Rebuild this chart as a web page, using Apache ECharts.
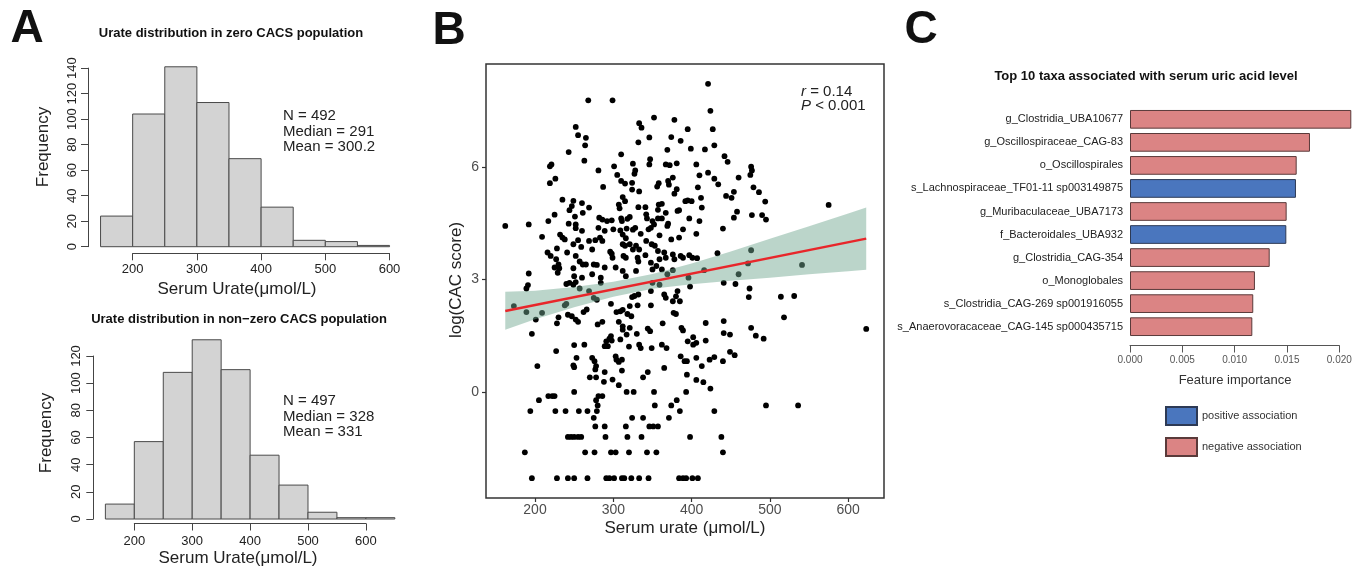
<!DOCTYPE html>
<html><head><meta charset="utf-8">
<script src="https://cdn.jsdelivr.net/npm/echarts@6/dist/echarts.min.js"></script>
<style>html,body{margin:0;padding:0;background:#fff}#c{width:1366px;height:572px}</style>
</head><body><div id="c"></div>
<script>
// ---------- DATA ----------
const zeroEdges = [150, 200, 250, 300, 350, 400, 450, 500, 550, 600];
const zeroCounts = [24, 104, 141, 113, 69, 31, 5, 4, 1];
const nonzeroEdges = [150, 200, 250, 300, 350, 400, 450, 500, 550, 600, 650];
const nonzeroCounts = [11, 57, 108, 132, 110, 47, 25, 5, 1, 1];

const urate = [
268,299,352,378,333,336,252,255,265,264,346,332,374,386,243,310,369,263,347,346,221,219,325,301,281,328,327,367,372,381,
305,226,219,310,315,324,287,324,333,358,356,370,371,376,381,378,312,315,235,249,260,244,247,225,261,269,307,308,332,341,
358,362,357,367,382,384,392,162,192,217,209,251,252,252,243,260,255,232,235,238,282,286,292,298,281,289,300,310,311,321,
318,309,312,317,325,328,335,342,343,350,345,348,352,357,362,369,370,359,374,384,389,277,283,286,249,259,269,273,312,316,
315,321,329,333,325,342,349,353,357,365,376,386,216,220,228,241,227,230,225,231,252,257,261,265,275,279,289,249,296,298,
299,313,316,331,332,341,348,359,367,378,389,192,229,250,260,273,284,303,312,316,329,350,355,362,369,376,
421,424,395,427,399,417,429,442,446,406,421,410,429,434,460,476,477,475,408,479,486,454,444,451,412,395,400,413,494,458,
454,477,490,495,397,410,575,406,440,433,397,401,407,476,472,541,460,416,396,
191,189,240,244,249,252,257,269,284,275,279,240,238,173,189,209,201,230,228,242,247,252,255,262,266,297,321,324,327,332,
348,350,359,365,367,382,380,376,385,348,331,304,309,312,318,323,307,312,321,312,344,347,363,377,380,387,389,196,280,286,
297,295,298,291,293,289,309,317,320,330,333,335,349,368,362,250,263,227,253,250,249,273,276,278,277,270,278,303,304,307,
311,311,289,288,299,307,203,338,344,365,386,391,250,317,326,352,393,217,222,225,205,278,281,286,280,194,226,239,256,267,
279,275,353,374,381,371,385,324,338,277,289,316,346,351,357,242,246,250,255,259,290,318,336,187,264,276,297,303,320,343,
355,196,228,242,250,267,291,295,301,311,314,323,333,345,384,389,
398,441,456,474,473,514,531,518,623,418,441,476,441,449,482,492,395,402,402,406,418,394,406,413,423,429,440,449,455,394,
406,415,424,429,495,536,398,438,440,393,401,408
];
const logCac = [
7.78,7.78,7.32,7.26,7.17,7.05,7.07,6.85,6.78,6.58,6.79,6.66,6.80,6.70,6.40,6.34,6.46,6.17,6.21,6.07,6.07,6.02,6.09,6.02,5.91,5.91,5.82,6.07,6.05,6.10,
5.79,5.69,5.57,5.63,5.56,5.58,5.47,5.40,5.35,5.57,5.48,5.63,5.53,5.72,5.41,5.29,5.20,5.09,5.13,5.10,5.04,4.85,4.96,4.73,4.78,4.92,5.00,4.90,4.93,4.93,
5.00,5.02,4.86,4.78,4.83,4.85,5.09,4.43,4.47,4.56,4.14,4.68,4.47,4.37,4.49,4.30,4.05,4.20,4.12,4.07,4.65,4.60,4.56,4.58,4.38,4.30,4.34,4.63,4.56,4.67,
4.62,4.31,4.20,4.36,4.33,4.38,4.22,4.74,4.63,4.56,4.34,4.38,4.47,4.63,4.63,4.43,4.49,4.18,4.07,4.12,4.34,4.05,4.12,4.03,3.94,3.87,4.03,3.80,3.94,4.10,
3.90,3.94,3.90,3.80,3.80,4.03,3.94,3.90,3.76,3.72,3.67,3.63,3.72,3.63,3.83,3.72,3.54,3.40,3.32,3.30,3.63,3.48,3.40,3.40,3.40,3.39,3.32,3.30,3.74,3.69,
3.58,3.63,3.58,3.58,3.48,3.65,3.45,3.54,3.58,3.54,3.58,3.16,3.18,3.09,3.05,3.14,3.05,3.32,3.23,3.09,3.23,3.27,3.36,3.27,3.14,3.25,
8.22,7.50,7.01,7.01,6.49,6.47,6.58,6.29,6.14,6.07,5.85,5.78,5.69,5.54,5.72,6.01,5.91,5.79,5.46,5.46,5.33,5.34,5.23,5.18,5.18,5.11,5.09,4.92,5.08,4.81,
4.65,4.72,4.72,4.60,4.63,4.56,4.99,4.22,4.36,3.70,3.65,3.58,3.57,3.78,3.43,3.39,3.14,3.25,3.05,
2.85,2.76,2.88,2.91,2.86,2.93,2.76,2.69,2.91,2.51,2.46,2.35,2.31,2.29,2.13,2.11,1.93,1.99,1.83,2.06,2.02,1.93,1.87,2.13,2.20,2.35,2.29,2.53,2.56,2.60,
2.69,2.91,2.86,2.60,2.51,2.69,2.55,2.42,2.42,2.31,2.31,2.13,2.15,2.19,2.08,2.02,1.87,1.75,1.71,1.66,1.69,1.62,1.83,2.11,2.08,1.71,1.64,1.55,1.80,1.87,
1.49,1.42,1.37,1.35,1.22,1.22,1.40,1.53,1.21,1.55,1.26,1.17,1.17,1.17,1.26,1.25,1.26,1.09,0.91,0.66,0.71,0.91,0.82,0.69,0.60,0.39,0.39,0.95,0.86,0.80,
0.86,0.57,0.53,0.27,0.33,0.18,0.69,0.39,0.53,0.64,0.95,0.82,0.00,0.00,0.00,0.00,0.00,-0.11,-0.11,-0.11,-0.22,-0.22,-0.11,-0.11,-0.36,-0.51,-0.51,-0.51,-0.51,-0.51,
-0.51,-0.69,-0.36,-0.36,-0.22,-0.69,-0.51,-0.69,-0.69,-0.92,-0.92,-0.92,-0.92,-0.92,-0.92,-1.20,-1.20,-1.20,-1.20,-1.20,-1.20,-1.20,-1.20,-1.61,-1.61,-1.61,-1.61,-1.61,-1.61,-1.61,
-1.61,-2.30,-2.30,-2.30,-2.30,-2.30,-2.30,-2.30,-2.30,-2.30,-2.30,-2.30,-2.30,-2.30,-2.30,-2.30,
2.81,2.91,2.88,2.76,2.53,2.54,2.56,1.99,1.68,1.84,1.89,1.71,1.57,1.53,1.50,1.42,1.35,1.46,1.26,1.31,1.37,0.82,0.91,0.69,0.86,0.93,0.82,1.07,0.98,0.46,
0.32,0.26,0.09,-0.51,-0.36,-0.36,-1.20,-1.20,-1.61,-2.30,-2.30,-2.30
];
const scatterXTicks = [200, 300, 400, 500, 600];
const scatterYTicks = [0, 3, 6];
const fitX = [162, 623];
const fitY = [2.16, 4.09];
const bandX = [162, 200, 250, 300, 350, 400, 450, 500, 550, 600, 623];
const bandLow = [1.66, 1.94, 2.26, 2.54, 2.75, 2.87, 2.97, 3.05, 3.14, 3.22, 3.26];
const bandHigh = [2.67, 2.70, 2.80, 2.94, 3.15, 3.43, 3.75, 4.09, 4.42, 4.76, 4.92];

const taxa = ['g_Clostridia_UBA10677','g_Oscillospiraceae_CAG-83','o_Oscillospirales','s_Lachnospiraceae_TF01-11 sp003149875',
  'g_Muribaculaceae_UBA7173','f_Bacteroidales_UBA932','g_Clostridia_CAG-354','o_Monoglobales',
  's_Clostridia_CAG-269 sp001916055','s_Anaerovoracaceae_CAG-145 sp000435715'];
const importance = [0.02115, 0.0172, 0.01593, 0.01586, 0.01497, 0.01494, 0.01335, 0.01194, 0.01178, 0.01169];
const association = ['negative','negative','negative','positive','negative','positive','negative','negative','negative','negative'];

// ---------- CHART ----------
const FONT = "'Liberation Sans', Arial, sans-serif";
const chart = echarts.init(document.getElementById('c'), null, {renderer: 'canvas'});

function histItem(params, api) {
  const p0 = api.coord([api.value(0), 0]);
  const p1 = api.coord([api.value(1), api.value(2)]);
  return {type: 'rect', shape: {x: p0[0], y: p1[1], width: p1[0] - p0[0], height: p0[1] - p1[1]},
    style: {fill: '#d3d3d3', stroke: '#4a4a4a', lineWidth: 1}};
}
const hidden = {show: false};
function rXAxis(grid, min, max, interval, margin, fmt) {
  return {type: 'value', gridIndex: grid, min, max, interval, position: 'bottom',
    axisLine: {show: true, onZero: false, lineStyle: {color: '#444', width: 1}},
    axisTick: {show: true, length: 7, lineStyle: {color: '#444', width: 1}},
    axisLabel: {show: true, margin, color: '#222', fontSize: 13, fontFamily: FONT, formatter: fmt},
    splitLine: hidden};
}
function rYAxis(grid, min, max, interval, margin) {
  return {type: 'value', gridIndex: grid, min, max, interval, position: 'left',
    axisLine: {show: true, onZero: false, lineStyle: {color: '#444', width: 1}},
    axisTick: {show: true, length: 7, lineStyle: {color: '#444', width: 1}},
    axisLabel: {show: true, rotate: 90, margin, color: '#222', fontSize: 13, fontFamily: FONT},
    splitLine: hidden};
}
const hidX = (g, min, max) => ({type: 'value', gridIndex: g, min, max, show: false, splitLine: hidden});
const hidY = (g, min, max) => ({type: 'value', gridIndex: g, min, max, show: false, splitLine: hidden});

const G = (left, top, width, height, extra) => Object.assign({left, top, width, height, outerBoundsMode: 'none', containLabel: false}, extra || {});

const posData = importance.map((v, i) => association[i] === 'positive' ? v : '-');
const negData = importance.map((v, i) => association[i] === 'negative' ? v : '-');

const option = {
  animation: false,
  backgroundColor: '#fff',
  grid: [
    G(89, 59.6, 312.1, 194.3),        // 0 hist top main
    G(132.7, 252.3, 256.8, 1),        // 1 hist top x axis
    G(88, 68.1, 1, 178.6),            // 2 hist top y axis
    G(93.8, 332.6, 312.6, 193.6),     // 3 hist bottom main
    G(134.3, 522.5, 231.6, 1),        // 4 hist bottom x axis
    G(93.3, 356, 1, 163),             // 5 hist bottom y axis
    G(486, 64, 398, 434, {show: true, borderColor: '#333', borderWidth: 1.5, backgroundColor: 'transparent'}), // 6 scatter
    G(1130, 107.8, 230.2, 230.4),     // 7 bars
    G(1130, 344.5, 209.3, 1)          // 8 bars x axis
  ],
  xAxis: [
    hidX(0, 132, 618),
    rXAxis(1, 200, 600, 100, 10),
    hidX(2, 0, 1),
    hidX(3, 130, 670),
    rXAxis(4, 200, 600, 100, 11),
    hidX(5, 0, 1),
    {type: 'value', gridIndex: 6, min: 137.4, max: 645.7, position: 'bottom', splitLine: hidden,
      axisLine: {show: false, onZero: false},
      axisTick: {show: true, length: 4, customValues: scatterXTicks, lineStyle: {color: '#333', width: 1.2}},
      axisLabel: {show: true, customValues: scatterXTicks, margin: 5, color: '#4d4d4d', fontSize: 14, fontFamily: FONT}},
    {type: 'value', gridIndex: 7, min: 0, max: 0.022, show: false, splitLine: hidden},
    {type: 'value', gridIndex: 8, min: 0, max: 0.02, interval: 0.005, position: 'bottom', splitLine: hidden,
      axisLine: {show: true, onZero: false, lineStyle: {color: '#555', width: 1}},
      axisTick: {show: true, length: 7, lineStyle: {color: '#555', width: 1}},
      axisLabel: {show: true, margin: 10, color: '#555', fontSize: 10, fontFamily: FONT, formatter: v => v.toFixed(3)}}
  ],
  yAxis: [
    hidY(0, -5.64, 146.64),
    hidY(1, 0, 1),
    rYAxis(2, 0, 140, 20, 9),
    hidY(3, -5.28, 137.28),
    hidY(4, 0, 1),
    rYAxis(5, 0, 120, 20, 10),
    {type: 'value', gridIndex: 6, min: -2.83, max: 8.75, position: 'left', splitLine: hidden,
      axisLine: {show: false, onZero: false},
      axisTick: {show: true, length: 4, customValues: scatterYTicks, lineStyle: {color: '#333', width: 1.2}},
      axisLabel: {show: true, customValues: scatterYTicks, margin: 7, color: '#4d4d4d', fontSize: 14, fontFamily: FONT}},
    {type: 'category', gridIndex: 7, data: taxa, inverse: true,
      axisLine: {show: false}, axisTick: {show: false},
      axisLabel: {margin: 7, color: '#222', fontSize: 11, fontFamily: FONT}},
    hidY(8, 0, 1)
  ],
  legend: {
    data: ['positive association', 'negative association'],
    orient: 'vertical', left: 1160, top: 401, itemWidth: 31, itemHeight: 18, itemGap: 11,
    icon: 'rect', selectedMode: false,
    textStyle: {fontSize: 11, color: '#333', fontFamily: FONT}
  },
  series: [
    {type: 'custom', xAxisIndex: 0, yAxisIndex: 0, renderItem: histItem, encode: {x: [0, 1], y: 2},
      data: zeroCounts.map((c, i) => [zeroEdges[i], zeroEdges[i + 1], c])},
    {type: 'custom', xAxisIndex: 3, yAxisIndex: 3, renderItem: histItem, encode: {x: [0, 1], y: 2},
      data: nonzeroCounts.map((c, i) => [nonzeroEdges[i], nonzeroEdges[i + 1], c])},
    {type: 'scatter', xAxisIndex: 6, yAxisIndex: 6, symbolSize: 5.8, z: 2,
      itemStyle: {color: '#000', opacity: 1},
      data: urate.map((x, i) => [x, logCac[i]])},
    {type: 'custom', xAxisIndex: 6, yAxisIndex: 6, z: 3, silent: true,
      data: [[bandX[0], bandLow[0]]],
      renderItem: (params, api) => {
        const pts = [];
        for (let i = 0; i < bandX.length; i++) pts.push(api.coord([bandX[i], bandHigh[i]]));
        for (let i = bandX.length - 1; i >= 0; i--) pts.push(api.coord([bandX[i], bandLow[i]]));
        return {type: 'polygon', shape: {points: pts}, style: {fill: 'rgba(112,168,145,0.48)'}};
      }},
    {type: 'line', xAxisIndex: 6, yAxisIndex: 6, z: 4, symbol: 'none',
      lineStyle: {color: '#e8262a', width: 2.4},
      data: fitX.map((x, i) => [x, fitY[i]])},
    {type: 'bar', name: 'positive association', xAxisIndex: 7, yAxisIndex: 7, data: posData,
      barWidth: 18.7, barGap: '-100%',
      itemStyle: {color: '#4a76be', borderColor: '#2d3a55', borderWidth: 1}},
    {type: 'bar', name: 'negative association', xAxisIndex: 7, yAxisIndex: 7, data: negData,
      barWidth: 18.7, barGap: '-100%',
      itemStyle: {color: '#db8484', borderColor: '#5a3a3a', borderWidth: 1}}
  ],
  graphic: [
    {type: 'text', x: 27, y: 29, style: {text: 'A', font: `bold 46px ${FONT}`, fill: '#111', textAlign: 'center', textVerticalAlign: 'middle'}},
    {type: 'text', x: 449, y: 31, style: {text: 'B', font: `bold 46px ${FONT}`, fill: '#111', textAlign: 'center', textVerticalAlign: 'middle'}},
    {type: 'text', x: 921, y: 30, style: {text: 'C', font: `bold 46px ${FONT}`, fill: '#111', textAlign: 'center', textVerticalAlign: 'middle'}},
    {type: 'text', x: 231, y: 33, style: {text: 'Urate distribution in zero CACS population', font: `bold 13px ${FONT}`, fill: '#111', textAlign: 'center', textVerticalAlign: 'middle'}},
    {type: 'text', x: 239, y: 319.5, style: {text: 'Urate distribution in non\u2212zero CACS population', font: `bold 13px ${FONT}`, fill: '#111', textAlign: 'center', textVerticalAlign: 'middle'}},
    {type: 'text', x: 283, y: 131.5, style: {text: 'N = 492\nMedian = 291\nMean = 300.2', font: `15px ${FONT}`, lineHeight: 15.5, fill: '#222', textAlign: 'left', textVerticalAlign: 'middle'}},
    {type: 'text', x: 283, y: 416.7, style: {text: 'N = 497\nMedian = 328\nMean = 331', font: `15px ${FONT}`, lineHeight: 15.5, fill: '#222', textAlign: 'left', textVerticalAlign: 'middle'}},
    {type: 'text', x: 43, y: 147, rotation: Math.PI / 2, style: {text: 'Frequency', font: `17px ${FONT}`, fill: '#222', textAlign: 'center', textVerticalAlign: 'middle'}},
    {type: 'text', x: 46, y: 433, rotation: Math.PI / 2, style: {text: 'Frequency', font: `17px ${FONT}`, fill: '#222', textAlign: 'center', textVerticalAlign: 'middle'}},
    {type: 'text', x: 237, y: 289, style: {text: 'Serum Urate(\u03bcmol/L)', font: `17px ${FONT}`, fill: '#222', textAlign: 'center', textVerticalAlign: 'middle'}},
    {type: 'text', x: 238, y: 558, style: {text: 'Serum Urate(\u03bcmol/L)', font: `17px ${FONT}`, fill: '#222', textAlign: 'center', textVerticalAlign: 'middle'}},
    {type: 'text', x: 456, y: 280, rotation: Math.PI / 2, style: {text: 'log(CAC score)', font: `17px ${FONT}`, fill: '#222', textAlign: 'center', textVerticalAlign: 'middle'}},
    {type: 'text', x: 685, y: 528, style: {text: 'Serum urate (\u03bcmol/L)', font: `17px ${FONT}`, fill: '#222', textAlign: 'center', textVerticalAlign: 'middle'}},
    {type: 'text', x: 801, y: 92, style: {rich: {i: {fontStyle: 'italic', fontSize: 15, fontFamily: FONT, fill: '#222'}, n: {fontSize: 15, fontFamily: FONT, fill: '#222'}}, text: '{i|r}{n| = 0.14}', textAlign: 'left', textVerticalAlign: 'middle'}},
    {type: 'text', x: 801, y: 106, style: {rich: {i: {fontStyle: 'italic', fontSize: 15, fontFamily: FONT, fill: '#222'}, n: {fontSize: 15, fontFamily: FONT, fill: '#222'}}, text: '{i|P}{n| < 0.001}', textAlign: 'left', textVerticalAlign: 'middle'}},
    {type: 'text', x: 1146, y: 76, style: {text: 'Top 10 taxa associated with serum uric acid level', font: `bold 13px ${FONT}`, fill: '#111', textAlign: 'center', textVerticalAlign: 'middle'}},
    {type: 'text', x: 1235, y: 380, style: {text: 'Feature importance', font: `13px ${FONT}`, fill: '#333', textAlign: 'center', textVerticalAlign: 'middle'}}
  ]
};
chart.setOption(option);
</script>
</body></html>
